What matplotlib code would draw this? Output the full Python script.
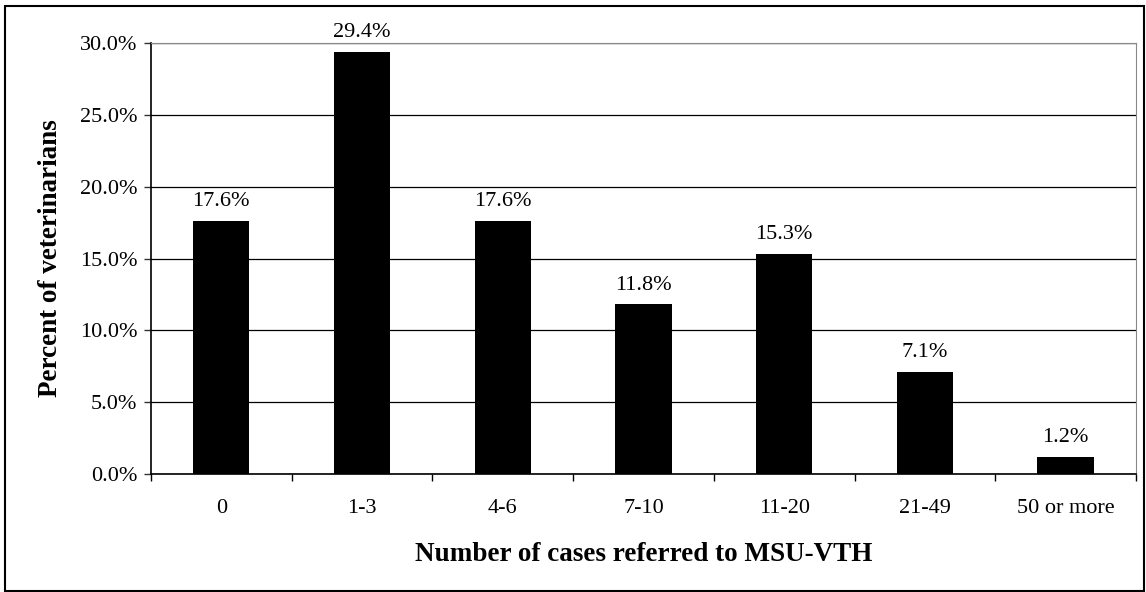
import numpy as np
import matplotlib.pyplot as plt
from matplotlib.patches import Rectangle

# cases referred vs share of veterinarians
categories = ['0', '1-3', '4-6', '7-10', '11-20', '21-49', '50 or more']
percent = [17.6, 29.4, 17.6, 11.8, 15.3, 7.1, 1.2]
yticks = [0, 5, 10, 15, 20, 25, 30]

plt.rcParams['font.family'] = ['Liberation Serif', 'DejaVu Serif']

W, H = 1146, 592
fig = plt.figure(figsize=(W / 100, H / 100), dpi=100)
ax = fig.add_axes([151 / W, 1 - 474 / H, (1136 - 151) / W, (474 - 43) / H])

x = np.arange(len(categories))
ax.bar(x, percent, width=0.4, color='black', zorder=3)
for xi, v in zip(x, percent):
    ax.annotate('{:.1f}%'.format(v), (xi, v), xytext=(0, 7), textcoords='offset points',
                ha='center', va='bottom', fontsize=16, annotation_clip=False)

ax.set_xlim(-0.5, len(categories) - 0.5)
ax.set_ylim(0, 30)
ax.set_yticks(yticks)
ax.set_yticklabels(['{:.1f}%'.format(t) for t in yticks], fontsize=16)
ax.yaxis.grid(True, color='black', linewidth=0.9, zorder=0)

# category labels centred, tick marks between categories
ax.set_xticks(np.arange(len(categories) + 1) - 0.5)
ax.set_xticklabels([])
ax.set_xticks(x, minor=True)
ax.set_xticklabels(categories, minor=True, fontsize=16)
ax.tick_params(axis='x', which='minor', length=0, pad=18)
ax.tick_params(axis='x', which='major', direction='out', length=5, width=1)
ax.tick_params(axis='y', direction='out', length=5, width=1, color='#333333', pad=5)

for side in ['top', 'right']:
    ax.spines[side].set_color('#888888')
for side in ['left', 'bottom']:
    ax.spines[side].set_color('black')
    ax.spines[side].set_linewidth(1.2)

ax.set_xlabel('Number of cases referred to MSU-VTH', fontsize=19.5, fontweight='bold', labelpad=17)
ax.set_ylabel('Percent of veterinarians', fontsize=19.5, fontweight='bold', labelpad=12)

fig.patches.append(Rectangle((5 / W, 1 / H), (1144 - 5) / W, (586 - 1) / H, transform=fig.transFigure,
                             fill=False, edgecolor='black', linewidth=1.5))

fig.savefig('out.png', dpi=100)
